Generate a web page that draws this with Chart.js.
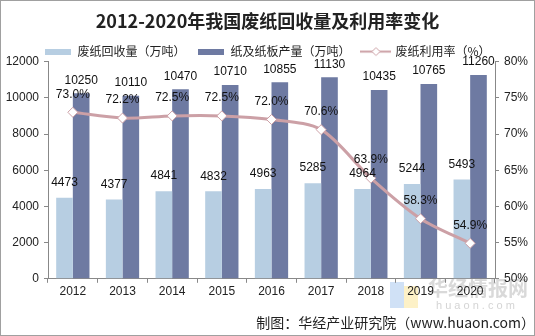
<!DOCTYPE html>
<html>
<head>
<meta charset="utf-8">
<script src="https://cdn.jsdelivr.net/npm/chart.js@4.4.1/dist/chart.umd.min.js"></script>
<style>
    html, body { margin: 0; padding: 0; background: #fff; }
    #wrap { position: relative; width: 535px; height: 336px; }
</style>
</head>
<body>
<div id="wrap"><canvas id="paper-chart" width="535" height="336"></canvas></div>
<script>
// data
const years = ['2012', '2013', '2014', '2015', '2016', '2017', '2018', '2019', '2020'];
const recovery = [4473, 4377, 4841, 4832, 4963, 5285, 4964, 5244, 5493];
const production = [10250, 10110, 10470, 10710, 10855, 11130, 10435, 10765, 11260];
const usageRate = [73.0, 72.2, 72.5, 72.5, 72.0, 70.6, 63.9, 58.3, 54.9];
const leftTicks = [0, 2000, 4000, 6000, 8000, 10000, 12000];
const rightTicks = [50, 55, 60, 65, 70, 75, 80];

const lightBlue = 'rgb(183, 206, 226)';
const darkBlue = 'rgb(110, 122, 162)';
const pink = 'rgb(204, 160, 166)';
const fontName = "'Liberation Sans', Arial, sans-serif";
const cjkFont = "'Noto Sans CJK SC', sans-serif";

// legend icons
function barIcon(color) {
    const c = document.createElement('canvas');
    c.width = 26; c.height = 6;
    const g = c.getContext('2d');
    g.fillStyle = color;
    g.fillRect(0, 0, 26, 6);
    return c;
}
function lineIcon() {
    const c = document.createElement('canvas');
    c.width = 31; c.height = 11;
    const g = c.getContext('2d');
    g.strokeStyle = pink;
    g.lineWidth = 2;
    g.beginPath(); g.moveTo(0, 5.5); g.lineTo(31, 5.5); g.stroke();
    g.fillStyle = '#fff';
    g.lineWidth = 1;
    g.beginPath();
    g.moveTo(15.5, 1.5); g.lineTo(19.5, 5.5); g.lineTo(15.5, 9.5); g.lineTo(11.5, 5.5); g.closePath();
    g.fill(); g.stroke();
    return c;
}
const legendIcons = [barIcon(lightBlue), barIcon(darkBlue), lineIcon()];

// value labels, border and watermark
const decoPlugin = {
    id: 'deco',
    beforeLayout(chart) {
        // keep the legend row short so the plot starts right under it
        const lg = chart.legend;
        if (lg && !lg._shortFit) {
            const fit = lg.fit;
            lg.fit = function () {
                fit.call(this);
                this.height = 28;
                this.minSize = { width: this.width, height: this.height };
            };
            lg._shortFit = true;
        }
    },
    beforeDraw(chart) {
        const ctx = chart.ctx;
        ctx.save();
        ctx.font = "bold 20px " + cjkFont;
        ctx.fillStyle = 'rgba(170, 170, 170, 0.45)';
        ctx.textAlign = 'left';
        ctx.textBaseline = 'middle';
        ctx.fillText('华经情报网', 428, 288);
        ctx.font = "11px " + fontName;
        ctx.fillStyle = 'rgba(170, 170, 170, 0.5)';
        ctx.fillText('h u a o n . c o m', 436, 306);
        ctx.fillStyle = 'rgba(120, 170, 230, 0.35)';
        ctx.fillRect(390, 282, 14, 26);
        ctx.fillStyle = 'rgba(250, 225, 130, 0.45)';
        ctx.fillRect(404, 286, 14, 22);
        ctx.restore();
    },
    afterDatasetsDraw(chart) {
        const ctx = chart.ctx;
        ctx.save();
        ctx.font = '12px ' + fontName;
        ctx.fillStyle = '#111';
        ctx.textAlign = 'center';
        ctx.textBaseline = 'bottom';
        const offsets = [9, 7, 12];
        chart.data.datasets.forEach((ds, di) => {
            const meta = chart.getDatasetMeta(di);
            meta.data.forEach((el, i) => {
                const txt = di === 2 ? ds.data[i].toFixed(1) + '%' : String(ds.data[i]);
                ctx.fillText(txt, el.x, el.y - offsets[di]);
            });
        });
        ctx.restore();
    },
    afterDraw(chart) {
        const ctx = chart.ctx;
        ctx.save();
        ctx.strokeStyle = '#a0a0a0';
        ctx.lineWidth = 1;
        ctx.strokeRect(0.5, 0.5, chart.width - 1, chart.height - 1);
        ctx.restore();
    }
};

const ctx = document.getElementById('paper-chart').getContext('2d');
new Chart(ctx, {
    type: 'bar',
    data: {
        labels: years,
        datasets: [
            {
                label: '废纸回收量（万吨）',
                data: recovery,
                backgroundColor: lightBlue,
                yAxisID: 'y',
                order: 2
            },
            {
                label: '纸及纸板产量（万吨）',
                data: production,
                backgroundColor: darkBlue,
                yAxisID: 'y',
                order: 2
            },
            {
                type: 'line',
                label: '废纸利用率（%）',
                data: usageRate,
                borderColor: pink,
                borderWidth: 3,
                tension: 0.3,
                pointStyle: 'rectRot',
                pointRadius: 5,
                pointBorderWidth: 1,
                pointBackgroundColor: '#fff',
                pointBorderColor: pink,
                yAxisID: 'y1',
                order: 1
            }
        ]
    },
    options: {
        responsive: false,
        animation: false,
        datasets: {
            bar: { categoryPercentage: 0.67, barPercentage: 1.0 }
        },
        layout: { padding: { top: 4, left: 0, right: 0, bottom: 0 } },
        plugins: {
            title: {
                display: true,
                text: '2012-2020年我国废纸回收量及利用率变化',
                color: '#222',
                font: { family: cjkFont, size: 18, weight: 'bold' },
                padding: { top: 6, bottom: 2 }
            },
            subtitle: {
                display: true,
                position: 'bottom',
                align: 'end',
                text: '制图：华经产业研究院（www.huaon.com）',
                color: '#222',
                font: { family: cjkFont, size: 14 },
                padding: { top: 13, bottom: 5 }
            },
            legend: {
                labels: {
                    usePointStyle: true,
                    pointStyleWidth: 27,
                    boxHeight: 8,
                    padding: 12,
                    color: '#222',
                    font: { family: cjkFont, size: 12 },
                    generateLabels(chart) {
                        const items = Chart.defaults.plugins.legend.labels.generateLabels(chart);
                        items.sort((a, b) => a.datasetIndex - b.datasetIndex);
                        items.forEach(it => { it.pointStyle = legendIcons[it.datasetIndex]; });
                        return items;
                    }
                }
            },
            tooltip: { enabled: false }
        },
        scales: {
            x: {
                grid: { display: true, drawOnChartArea: false, tickLength: 4, color: '#888', offset: true },
                border: { color: '#888' },
                ticks: { color: '#222', font: { family: fontName, size: 12 }, padding: 2 }
            },
            y: {
                position: 'left',
                min: 0,
                max: 12000,
                afterBuildTicks(scale) { scale.ticks = leftTicks.map(v => ({ value: v })); },
                afterFit(scale) { scale.width = 48; },
                grid: { drawOnChartArea: false, tickLength: 4, color: '#888' },
                border: { color: '#888' },
                ticks: { color: '#222', font: { family: fontName, size: 12 }, padding: 5, callback: v => String(v) }
            },
            y1: {
                position: 'right',
                min: 50,
                max: 80,
                afterBuildTicks(scale) { scale.ticks = rightTicks.map(v => ({ value: v })); },
                afterFit(scale) { scale.width = 40; },
                grid: { drawOnChartArea: false, tickLength: 4, color: '#888' },
                border: { color: '#888' },
                ticks: {
                    color: '#222',
                    font: { family: fontName, size: 12 },
                    padding: 5,
                    callback: v => v + '%'
                }
            }
        }
    },
    plugins: [decoPlugin]
});
</script>
</body>
</html>
